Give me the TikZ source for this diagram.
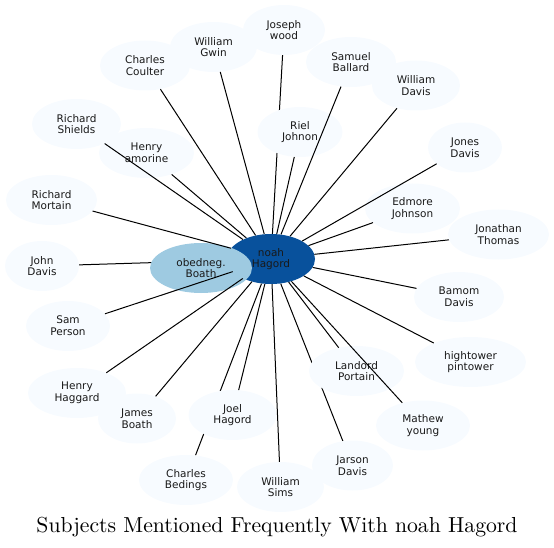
\documentclass[tikz,border=0pt]{standalone}
\usepackage{fontspec}
\newfontfamily\nodefont{DejaVu Sans}
\newfontfamily\titlefam{lmroman10-regular}[Extension=.otf]
\usetikzlibrary{shapes.geometric}
\pgfdeclarelayer{background}
\pgfdeclarelayer{foreground}
\pgfsetlayers{background,main,foreground}
\definecolor{palefill}{HTML}{F7FBFF}
\definecolor{darkblue}{HTML}{08519C}
\definecolor{lightblue}{HTML}{9ECAE1}
\tikzset{
  person/.style={ellipse, fill=palefill, draw=none, inner sep=0pt, minimum height=50pt,
    align=center, text=black!90, font=\nodefont\fontsize{10.5}{11.7}\selectfont},
  link/.style={draw=black, line width=1pt},
  titlefont/.style={font=\titlefam\fontsize{21.7}{26}\selectfont},
}
\begin{document}
\begin{tikzpicture}[x=1pt,y=-1pt]
\useasboundingbox (0,0) rectangle (554,548);
% center nodes
\node[person, fill=darkblue, minimum width=88pt] (noah) at (271,259) {noah\\Hagord};
\node[person, fill=lightblue, minimum width=102pt] (ob) at (201,268) {obedneg.\\Boath};
% others
\node[person, minimum width=82pt] (jw) at (284,30) {Joseph\\wood};
\node[person, minimum width=87pt] (wg) at (213.5,47) {William\\Gwin};
\node[person, minimum width=90pt] (cc) at (145,65.5) {Charles\\Coulter};
\node[person, minimum width=90pt] (sb) at (351,62) {Samuel\\Ballard};
\node[person, minimum width=88pt] (wd) at (416,85.5) {William\\Davis};
\node[person, minimum width=85pt] (rj) at (300,132) {Riel\\Johnon};
\node[person, minimum width=89pt] (rs) at (76.5,124) {Richard\\Shields};
\node[person, minimum width=95pt] (ha) at (146.5,153) {Henry\\amorine};
\node[person, minimum width=74pt] (jod) at (465,147.5) {Jones\\Davis};
\node[person, minimum width=91pt] (rm) at (51.5,200) {Richard\\Mortain};
\node[person, minimum width=95pt] (ej) at (412.5,208.5) {Edmore\\Johnson};
\node[person, minimum width=101pt] (jt) at (498.5,234.5) {Jonathan\\Thomas};
\node[person, minimum width=74pt] (jhd) at (42,266) {John\\Davis};
\node[person, minimum width=84pt] (sp) at (68,326) {Sam\\Person};
\node[person, minimum width=90pt] (bd) at (459,297) {Bamom\\Davis};
\node[person, minimum width=111pt] (hp) at (470.5,362) {hightower\\pintower};
\node[person, minimum width=95pt] (lp) at (356.5,371) {Landord\\Portain};
\node[person, minimum width=98pt] (hh) at (77,393) {Henry\\Haggard};
\node[person, minimum width=78pt] (jb) at (137,418.5) {James\\Boath};
\node[person, minimum width=88pt] (jh) at (232.5,415) {Joel\\Hagord};
\node[person, minimum width=94pt] (my) at (423,425.5) {Mathew\\young};
\node[person, minimum width=81pt] (jr) at (352.5,465.5) {Jarson\\Davis};
\node[person, minimum width=94pt] (cb) at (186,480) {Charles\\Bedings};
\node[person, minimum width=87pt] (ws) at (280.5,487) {William\\Sims};
% title
\node[titlefont, anchor=base] (title) at (277,532) {Subjects Mentioned Frequently With noah Hagord};
% edges under nodes
\begin{pgfonlayer}{background}
\foreach \n in {jw, jr, cb, jhd} \draw[link] (\n) -- (noah);
\end{pgfonlayer}
% edges over nodes
\begin{pgfonlayer}{foreground}
\foreach \n in {cc, wg, sb, wd, rj, rs, ha, jod, ej, jt, rm, sp, hh, jb, jh, ws, lp, my, bd, hp}
  \draw[link] (\n) -- (noah);
\end{pgfonlayer}
\end{tikzpicture}
\end{document}
